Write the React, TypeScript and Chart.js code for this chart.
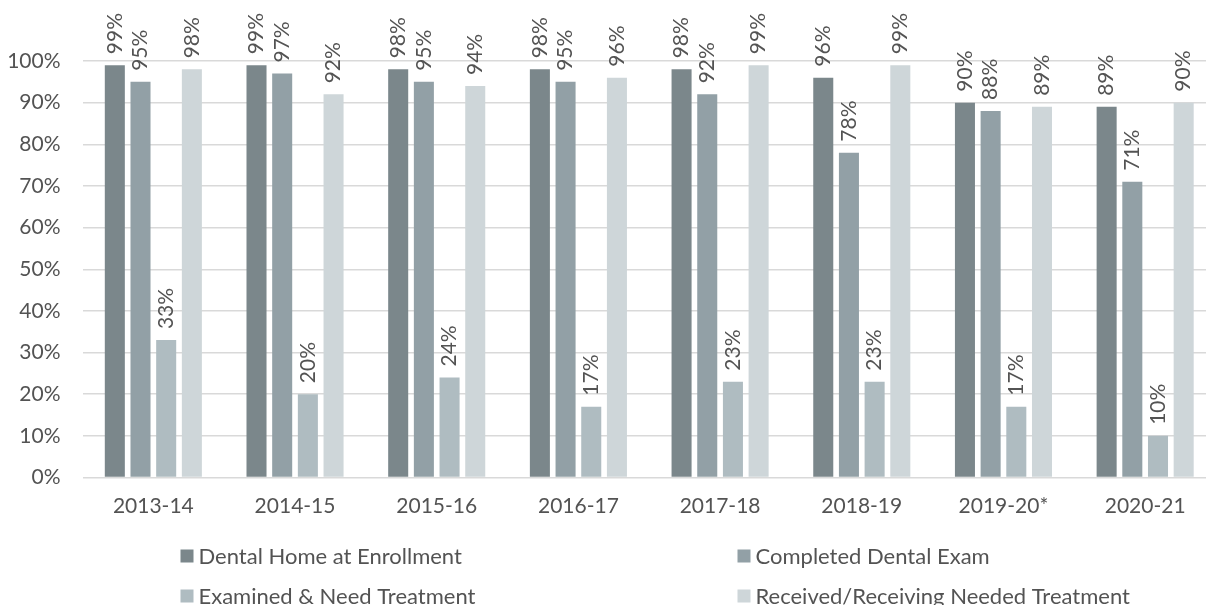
import React, { useEffect, useRef } from "react";
import { Chart, registerables } from "chart.js";

Chart.register(...registerables);

const categories = ["2013-14", "2014-15", "2015-16", "2016-17", "2017-18", "2018-19", "2019-20*", "2020-21"];
const seriesNames = [
  "Dental Home at Enrollment",
  "Completed Dental Exam",
  "Examined & Need Treatment",
  "Received/Receiving Needed Treatment",
];
const dentalHome = [99, 99, 98, 98, 98, 96, 90, 89];
const completedExam = [95, 97, 95, 95, 92, 78, 88, 71];
const needTreatment = [33, 20, 24, 17, 23, 23, 17, 10];
const receivedTreatment = [98, 92, 94, 96, 99, 99, 89, 90];
const yTicks = [0, 10, 20, 30, 40, 50, 60, 70, 80, 90, 100];

const seriesColors = ["#7B878B", "#92A0A6", "#AFBCC1", "#CED6D9"];
const FONT = "Lato, 'Open Sans', sans-serif";
const TEXT = "#535353";

const W = 1230;
const H = 605;

const labelPlugin = {
  id: "barLabels",
  afterDatasetsDraw(chart: any) {
    const ctx = chart.ctx;
    ctx.save();
    ctx.font = `21px ${FONT}`;
    ctx.fillStyle = TEXT;
    chart.data.datasets.forEach((ds: any, i: number) => {
      const meta = chart.getDatasetMeta(i);
      meta.data.forEach((bar: any, j: number) => {
        const v = ds.data[j];
        ctx.save();
        ctx.translate(bar.x, bar.y - 11);
        ctx.rotate(-Math.PI / 2);
        ctx.textAlign = "left";
        ctx.textBaseline = "middle";
        ctx.fillText(v + "%", 0, 0);
        ctx.restore();
      });
    });
    ctx.restore();
  },
};

const legendPlugin = {
  id: "gridLegend",
  afterDraw(chart: any) {
    const ctx = chart.ctx;
    const area = chart.chartArea;
    const cols = [area.left + 98, area.left + 655];
    const rows = [area.bottom + 78, area.bottom + 118];
    ctx.save();
    ctx.font = `22px ${FONT}`;
    ctx.textAlign = "left";
    ctx.textBaseline = "middle";
    chart.data.datasets.forEach((ds: any, i: number) => {
      const x = cols[i % 2];
      const y = rows[Math.floor(i / 2)];
      ctx.fillStyle = ds.backgroundColor;
      ctx.fillRect(x, y - 6, 13, 13);
      ctx.fillStyle = TEXT;
      ctx.fillText(ds.label, x + 18, y + 1);
    });
    ctx.restore();
  },
};

export default function App() {
  const ref = useRef<HTMLCanvasElement | null>(null);

  useEffect(() => {
    document.documentElement.style.overflow = "hidden";
    document.body.style.overflow = "hidden";
    const canvas = ref.current;
    if (!canvas) return;
    const allSeries = [dentalHome, completedExam, needTreatment, receivedTreatment];
    const chart = new Chart(canvas, {
      type: "bar",
      data: {
        labels: categories,
        datasets: allSeries.map((d, i) => ({
          label: seriesNames[i],
          data: d,
          backgroundColor: seriesColors[i],
          borderWidth: 0,
          categoryPercentage: 0.725,
          barPercentage: 0.78,
        })),
      },
      options: {
        responsive: false,
        animation: false,
        devicePixelRatio: 1,
        layout: { padding: { top: 61, right: W - 1216, bottom: 0, left: 0 } },
        plugins: {
          legend: { display: false },
          tooltip: { enabled: false },
        },
        scales: {
          x: {
            grid: { display: false, drawTicks: false },
            border: { display: false },
            ticks: {
              color: TEXT,
              font: { family: FONT, size: 21 },
              padding: 16,
              maxRotation: 0,
            },
            afterFit(scale: any) {
              scale.height = H - 477.5;
            },
          },
          y: {
            min: 0,
            max: 100,
            afterBuildTicks(scale: any) {
              scale.ticks = yTicks.map((v) => ({ value: v }));
            },
            grid: { color: "#D9D9D9", lineWidth: 1.5, drawTicks: false },
            border: { display: false },
            ticks: {
              color: TEXT,
              font: { family: FONT, size: 21 },
              padding: 22,
              callback: (v: any) => v + "%",
            },
            afterFit(scale: any) {
              scale.width = 82.5;
            },
          },
        },
      },
      plugins: [labelPlugin, legendPlugin],
    });
    return () => chart.destroy();
  }, []);

  return (
    <div style={{ position: "fixed", left: 0, top: 0, width: W, height: H, background: "#fff" }}>
      <canvas ref={ref} width={W} height={H} style={{ width: W, height: H, display: "block" }} />
    </div>
  );
}
